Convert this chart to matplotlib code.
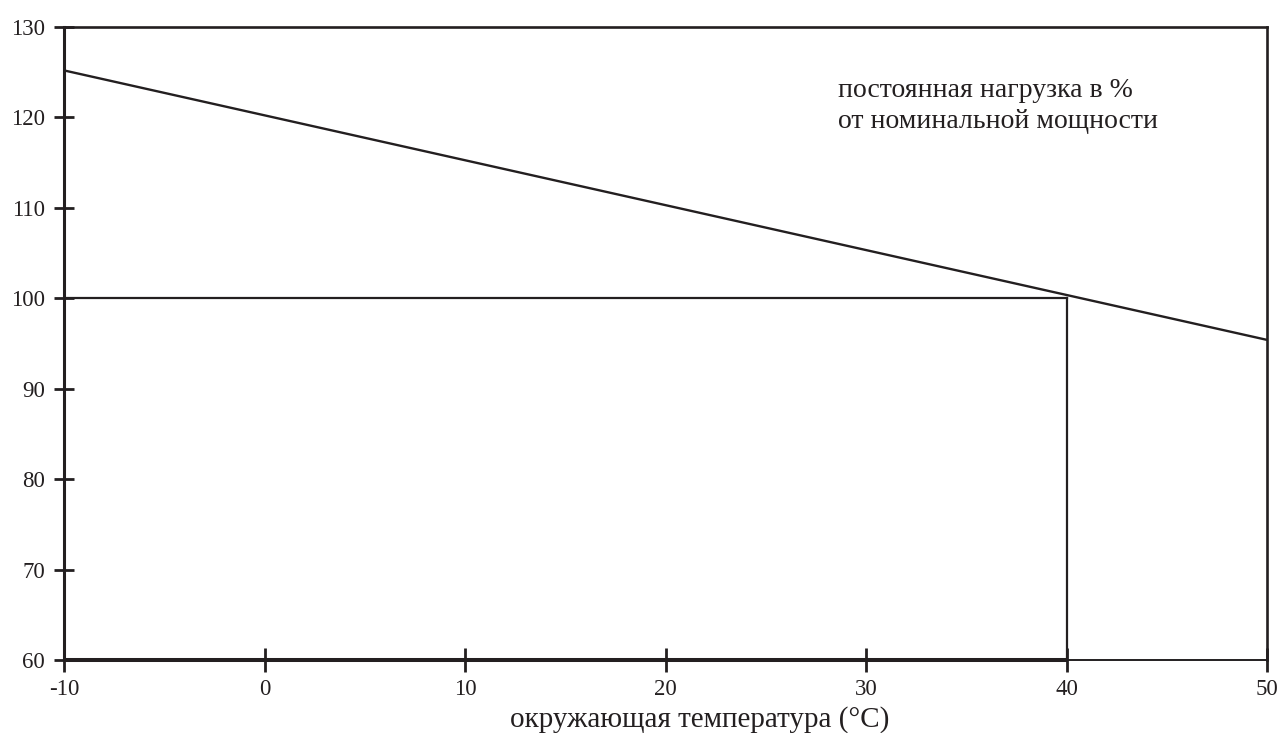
import matplotlib
matplotlib.use("Agg")
import matplotlib.pyplot as plt

plt.rcParams['font.family'] = ['Liberation Serif', 'DejaVu Serif']

# Data
x_line = [-10, 50]
y_line = [125.2, 95.4]
ref_temp = 40
ref_load = 100
xticks = [-10, 0, 10, 20, 30, 40, 50]
yticks = [60, 70, 80, 90, 100, 110, 120, 130]
xlabel = "окружающая температура (°C)"
note_lines = ["постоянная нагрузка в %", "от номинальной мощности"]

C = '#231f20'
W, H = 1285, 733

fig = plt.figure(figsize=(W / 100, H / 100), dpi=100)
ax = fig.add_axes([64/W, (H-660)/H, (1267-64)/W, (660-27)/H])
ax.set_xlim(-10, 50)
ax.set_ylim(60, 130)

ax.plot(x_line, y_line, color=C, lw=1.7, solid_capstyle='butt')
ax.plot([-10, ref_temp], [ref_load, ref_load], color=C, lw=1.6)
ax.plot([ref_temp, ref_temp], [60, ref_load], color=C, lw=1.6)
ax.plot([-10, ref_temp], [60, 60], color=C, lw=2.9, clip_on=False, solid_capstyle='butt')

ax.spines['left'].set_linewidth(2.2)
for s in ['top', 'right']:
    ax.spines[s].set_linewidth(1.9)
ax.spines['bottom'].set_linewidth(1.4)
for s in ax.spines.values():
    s.set_color(C)

ax.set_xticks(xticks)
ax.set_yticks(yticks)
ax.set_xticklabels([str(v) for v in xticks])
ax.set_yticklabels([str(v) for v in yticks])
ax.tick_params(axis='x', direction='inout', length=17, width=2, color=C,
               labelsize=16.5, labelcolor=C, pad=5)
ax.tick_params(axis='y', direction='inout', length=14.5, width=2, color=C,
               labelsize=16.5, labelcolor=C, pad=6.5)

fig.text(700/W, 1 - 727/H, xlabel, fontsize=21, color=C, ha='center', va='baseline')
fig.text(838/W, 1 - 97/H, note_lines[0], fontsize=20, color=C, ha='left', va='baseline')
fig.text(838/W, 1 - 128/H, note_lines[1], fontsize=20, color=C, ha='left', va='baseline')

fig.savefig("out.png", dpi=100)
